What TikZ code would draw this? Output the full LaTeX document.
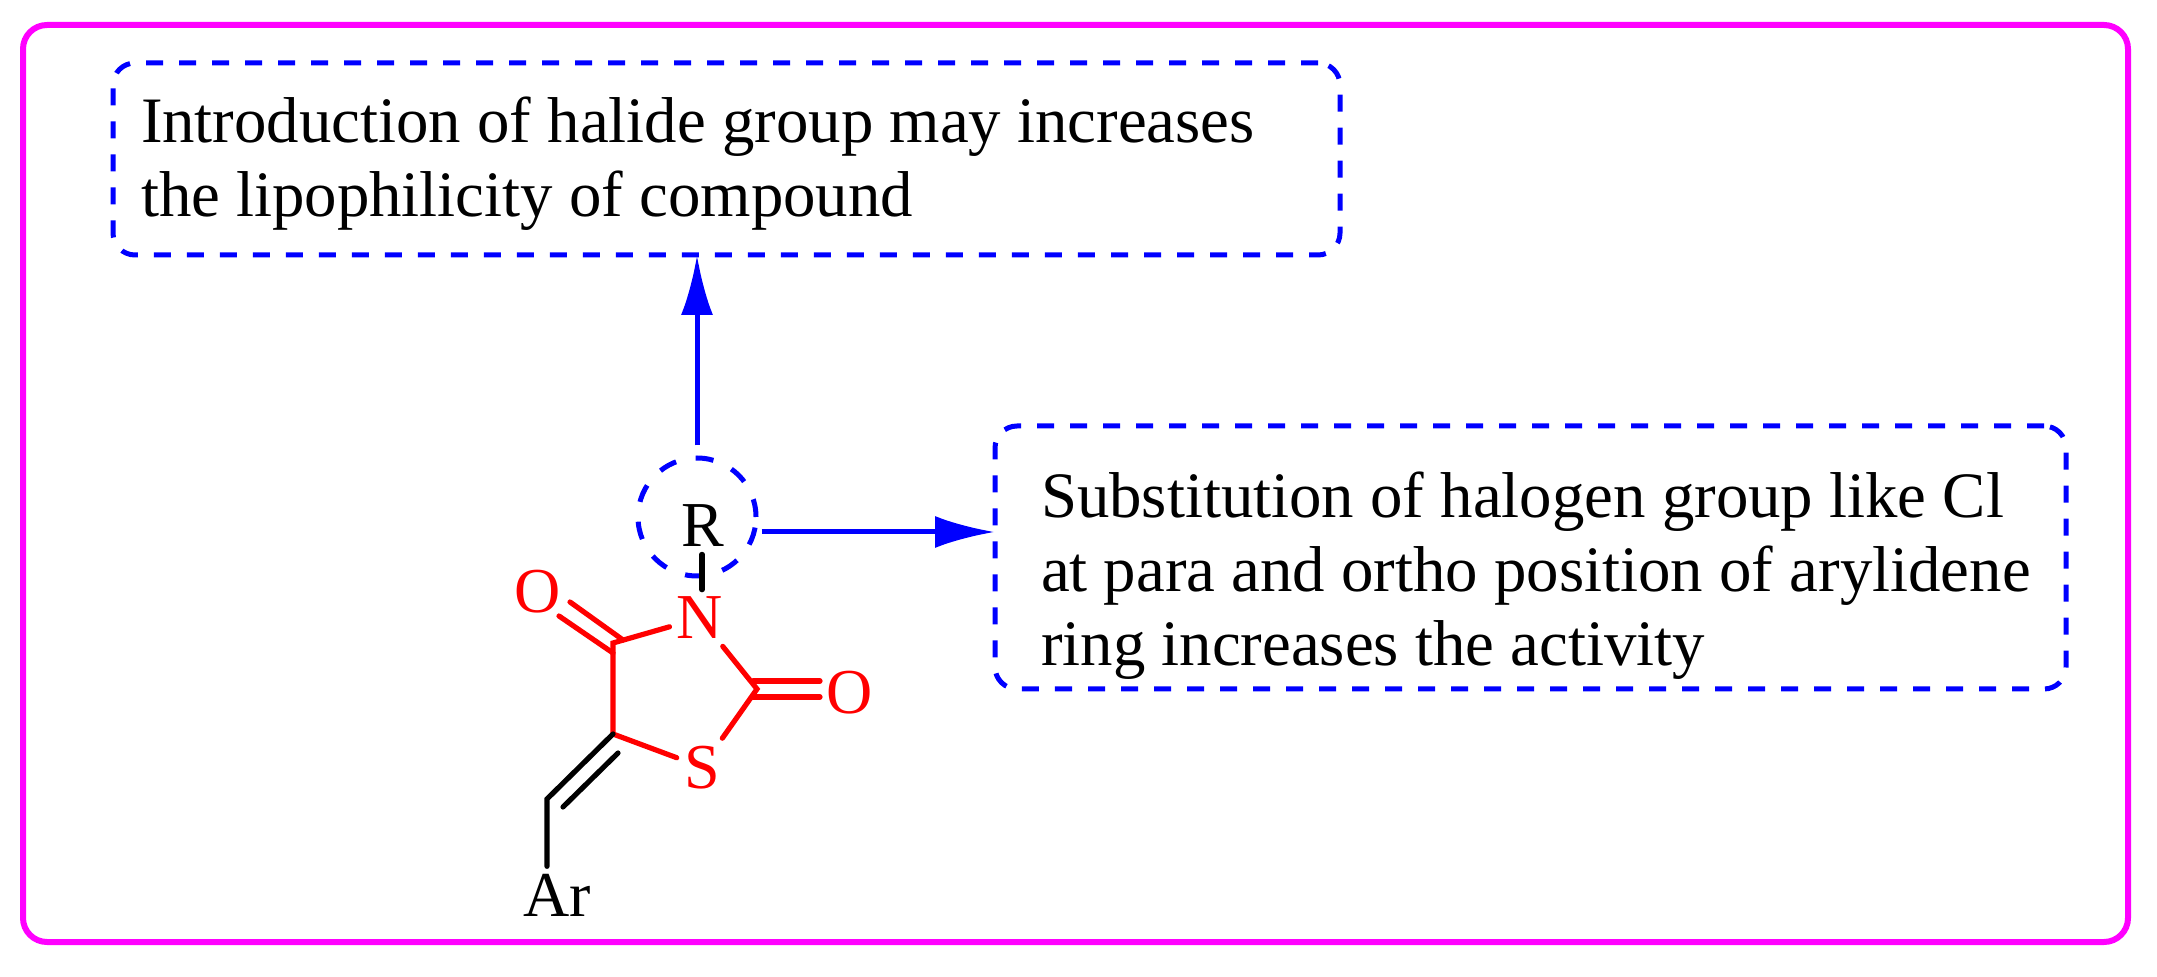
\documentclass[tikz,border=0pt]{standalone}
\usepackage{fontspec}
\setmainfont{Liberation Serif}
\usetikzlibrary{arrows.meta}
\definecolor{framepink}{RGB}{255,0,255}
\begin{document}
\begin{tikzpicture}[x=0.5pt,y=-0.5pt,
  frame/.style={draw=framepink,line width=3pt,rounded corners=12pt},
  note/.style={draw=blue,line width=2.5pt,dash pattern=on 8.5pt off 8pt,rounded corners=11pt,
     anchor=north west,inner xsep=0pt,inner ysep=0pt,outer sep=0pt,font=\fontsize{32.4pt}{37pt}\selectfont,align=flush left},
  ring/.style={draw=blue,line width=2.5pt,dash pattern=on 9pt off 10pt,circle,inner sep=0pt,minimum size=59pt},
  atom/.style={anchor=base,inner sep=3.5pt,font=\fontsize{32pt}{37pt}\selectfont},
  redatom/.style={atom,text=red},
  bond/.style={line width=2.6pt,line cap=round},
  redbond/.style={bond,draw=red},
  flow/.style={draw=blue,line width=2.5pt,-{Latex[length=30pt,width=16pt,inset=5pt]}}
]
\useasboundingbox (0,0) rectangle (2157,977);
\fill[white] (0,0) rectangle (2157,977);
\draw[frame] (23,25) rectangle (2128,942);

\node[note,text width=613.5pt,minimum height=96pt] (boxa) at (113,63)
  {\hspace*{14pt}\rule{0pt}{27.5pt}Introduction of halide group may increases\\
   \hspace*{14pt}the lipophilicity of compound};
\node[note,text width=535.5pt,minimum height=131.5pt] (boxb) at (995,426)
  {\hspace*{23pt}\rule{0pt}{41pt}Substitution of halogen group like Cl\\
   \hspace*{23pt}at para and ortho position of arylidene\\
   \hspace*{23pt}ring increases the activity};

\node[ring] (rc) at (697,517) {};
\node[atom] (r) at (703,547) {R};
\node[redatom] (n) at (700,639) {N};
\node[redatom] (s) at (702,788) {S};
\node[redatom] (ol) at (538,613) {O};
\node[redatom] (or) at (850,713) {O};
\node[atom] (ar) at (557,916) {Ar};
\coordinate (c4) at (613,643);
\coordinate (c5) at (613,734);
\coordinate (c2) at (757,689);
\coordinate (ch) at (547,799);

\draw[bond] ([yshift=-1pt]r.south -| n.north) ++(2,-2) coordinate (rb) -- (rb |- n.north);
\draw[redbond] (c5) -- (c4) -- (n);
\draw[redbond] (n) -- (c2) -- (s) -- (c5);
\draw[redbond] ([shift={(10,-3)}]c4) -- ([shift={(32,-11)}]ol.base);
\draw[redbond] ([shift={(0,10)}]c4) -- ([shift={(21,3)}]ol.base);
\draw[redbond] ([shift={(-4,-8)}]c2) -- ([shift={(-30,-32)}]or.base);
\draw[redbond] ([shift={(-4,8)}]c2) -- ([shift={(-30,-16)}]or.base);
\draw[bond,line join=miter] (c5) -- (ch) -- (ar.north -| ch);
\draw[bond] ([shift={(5,19)}]c5) -- ([shift={(16,8)}]ch);

\draw[flow] (rc.north) ++(0,-10) coordinate (ua) -- (ua |- boxa.south);
\draw[flow] (rc.east) ++(3,15) coordinate (ub) -- (ub -| boxb.west);
\end{tikzpicture}
\end{document}
